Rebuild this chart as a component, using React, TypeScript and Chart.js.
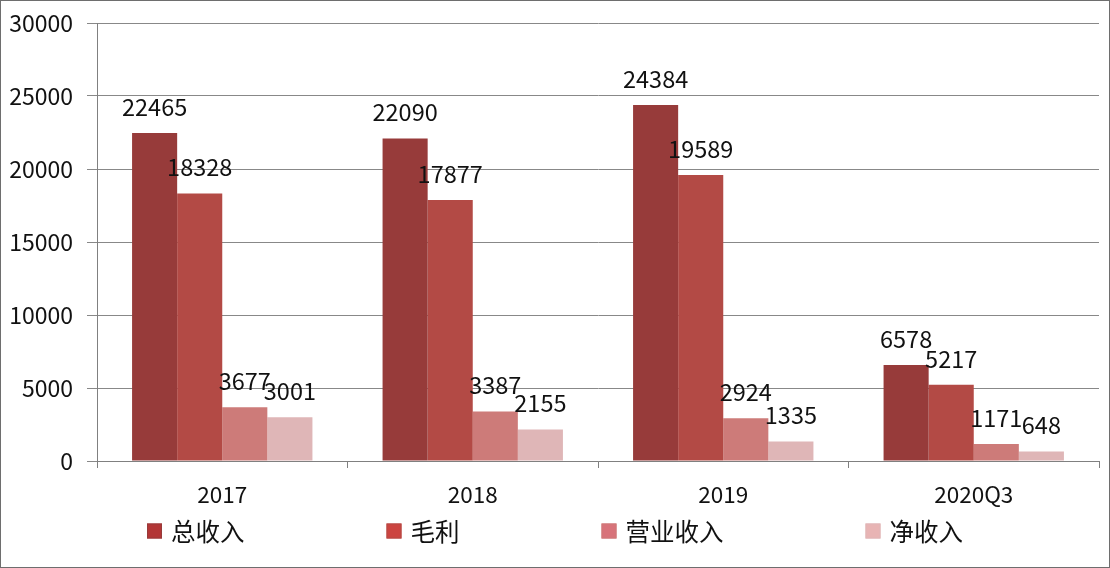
import { useEffect, useRef } from 'react'
import { Chart, registerables } from 'chart.js'

Chart.register(...registerables)

const FONT = "'Noto Sans CJK SC', 'Noto Sans', sans-serif"

const categories = ['2017', '2018', '2019', '2020Q3']
const seriesNames = ['总收入', '毛利', '营业收入', '净收入']
const totalRevenue = [22465, 22090, 24384, 6578]
const grossProfit = [18328, 17877, 19589, 5217]
const operatingIncome = [3677, 3387, 2924, 1171]
const netIncome = [3001, 2155, 1335, 648]
const barColors = ['#973b3a', '#b34a45', '#cd7b79', '#dfb6b7']
const legendColors = ['#b33636', '#cc4440', '#d8737a', '#e8b4b4']
const yTicks = [0, 5000, 10000, 15000, 20000, 25000, 30000]

const valueLabels = {
  id: 'valueLabels',
  afterDatasetsDraw(chart: Chart) {
    const ctx = chart.ctx
    ctx.save()
    ctx.font = `23.5px ${FONT}`
    ctx.fillStyle = '#111'
    ctx.textAlign = 'center'
    ctx.textBaseline = 'middle'
    chart.data.datasets.forEach((ds, i) => {
      const meta = chart.getDatasetMeta(i)
      meta.data.forEach((el: any, j) => {
        ctx.fillText(String(ds.data[j]), el.x, el.y - 26)
      })
    })
    ctx.restore()
  }
}

const bottomLegend = {
  id: 'bottomLegend',
  afterDraw(chart: Chart) {
    const ctx = chart.ctx
    ctx.save()
    ctx.font = `24.5px ${FONT}`
    ctx.textBaseline = 'middle'
    const box = 15, gap = 9, pad = 142
    const widths = seriesNames.map(n => box + gap + ctx.measureText(n).width)
    const total = widths.reduce((a, b) => a + b, 0) + pad * (widths.length - 1)
    let x = (chart.width - total) / 2
    const y = 530
    seriesNames.forEach((n, i) => {
      ctx.fillStyle = legendColors[i]
      ctx.fillRect(x, y - box / 2, box, box)
      ctx.strokeStyle = barColors[i]
      ctx.lineWidth = 1
      ctx.strokeRect(x + 0.5, y - box / 2 + 0.5, box - 1, box - 1)
      ctx.fillStyle = '#111'
      ctx.fillText(n, x + box + gap, y + 1)
      x += widths[i] + pad
    })
    ctx.restore()
  }
}

export default function App() {
  const canvasRef = useRef<HTMLCanvasElement>(null)

  useEffect(() => {
    if (!canvasRef.current) return
    const values = [totalRevenue, grossProfit, operatingIncome, netIncome]
    const chart = new Chart(canvasRef.current, {
      type: 'bar',
      data: {
        labels: categories,
        datasets: seriesNames.map((name, i) => ({
          label: name,
          data: values[i],
          backgroundColor: barColors[i],
          borderWidth: 0,
          categoryPercentage: 0.72,
          barPercentage: 1
        }))
      },
      options: {
        responsive: false,
        animation: false,
        layout: { padding: { top: 22, right: 10, left: 0, bottom: 0 } },
        plugins: { legend: { display: false }, tooltip: { enabled: false } },
        scales: {
          x: {
            grid: { offset: true, drawOnChartArea: false, drawTicks: true, tickLength: 7, color: '#808080' },
            border: { color: '#808080' },
            ticks: { font: { family: FONT, size: 22.5 }, color: '#111', padding: 13 },
            afterFit: (s: any) => { s.height = 106; s.paddingLeft = 0; s.paddingRight = 0 }
          },
          y: {
            min: 0,
            max: 30000,
            afterBuildTicks: (s: any) => { s.ticks = yTicks.map(v => ({ value: v })) },
            grid: { color: '#888', tickLength: 10 },
            border: { color: '#808080' },
            ticks: {
              font: { family: FONT, size: 23 }, color: '#111', padding: 14,
              callback: (v: any) => String(v)
            },
            afterFit: (s: any) => { s.width = 96; s.paddingTop = 0; s.paddingBottom = 0 }
          }
        }
      },
      plugins: [valueLabels, bottomLegend]
    })
    return () => { chart.destroy() }
  }, [])

  return (
    <div style={{
      position: 'fixed', left: 0, top: 0, width: 1110, height: 568,
      border: '1px solid #6e6e6e', boxSizing: 'border-box', background: '#fff'
    }}>
      <canvas ref={canvasRef} width={1108} height={566} style={{ display: 'block' }} />
    </div>
  )
}
